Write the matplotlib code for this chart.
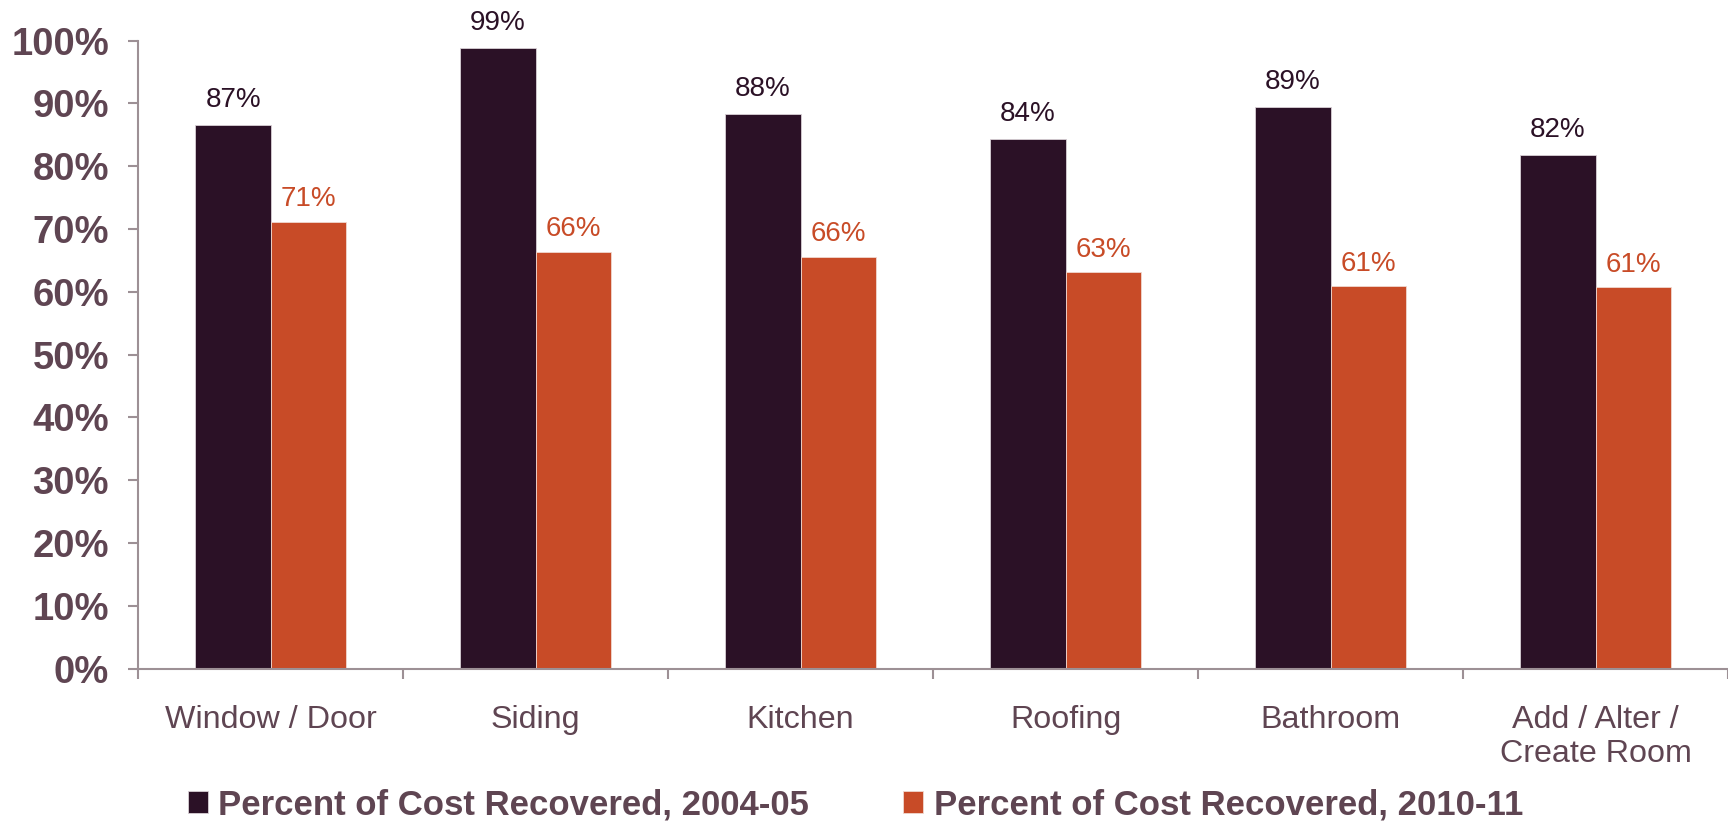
import matplotlib
matplotlib.use("Agg")
import matplotlib.pyplot as plt
import numpy as np
from matplotlib.ticker import FixedLocator, FuncFormatter

categories = ["Window / Door", "Siding", "Kitchen", "Roofing", "Bathroom", "Add / Alter /\nCreate Room"]
series_2004 = [86.6, 98.9, 88.3, 84.4, 89.4, 81.8]
series_2010 = [71.2, 66.4, 65.6, 63.1, 60.9, 60.7]
labels_2004 = ["87%", "99%", "88%", "84%", "89%", "82%"]
labels_2010 = ["71%", "66%", "66%", "63%", "61%", "61%"]
legend_names = ["Percent of Cost Recovered, 2004-05", "Percent of Cost Recovered, 2010-11"]
yticks = [0, 10, 20, 30, 40, 50, 60, 70, 80, 90, 100]

C_DARK = "#2b1126"
C_ORANGE = "#c84b27"
C_TEXT = "#5f4552"
C_AXIS = "#9d9095"

plt.rcParams["font.family"] = ["Liberation Sans", "DejaVu Sans"]

fig = plt.figure(figsize=(17.28, 8.22), dpi=100)
ax = fig.add_axes([0.08, 0.1865, 0.92, 0.764])

x = np.arange(len(categories))
w = 0.284
b1 = ax.bar(x - w / 2, series_2004, w, color=C_DARK, edgecolor="#d9d0d6", linewidth=0.6, label=legend_names[0])
b2 = ax.bar(x + w / 2, series_2010, w, color=C_ORANGE, edgecolor="#f0d8cf", linewidth=0.6, label=legend_names[1])

ax.bar_label(b1, labels=labels_2004, padding=8.5, fontsize=20, color=C_DARK)
ax.bar_label(b2, labels=labels_2010, padding=7, fontsize=20, color=C_ORANGE)

ax.set_xlim(-0.5, len(categories) - 0.5)
ax.set_ylim(0, 100)

ax.set_yticks(yticks)
ax.yaxis.set_major_formatter(FuncFormatter(lambda v, p: f"{int(v)}%"))
ax.tick_params(axis="y", direction="out", length=7, width=1.5, color=C_AXIS,
               labelsize=27.5, labelcolor=C_TEXT, pad=14)
for lab in ax.get_yticklabels():
    lab.set_fontweight("bold")

ax.set_xticks(x)
ax.set_xticklabels(categories, fontsize=23.2, color=C_TEXT)
ax.tick_params(axis="x", which="major", length=0, pad=26)
ax.xaxis.set_minor_locator(FixedLocator(np.arange(-0.5, len(categories), 1.0)))
ax.tick_params(axis="x", which="minor", direction="out", length=7, width=1.5, color=C_AXIS)

for s in ["top", "right"]:
    ax.spines[s].set_visible(False)
for s in ["left", "bottom"]:
    ax.spines[s].set_color(C_AXIS)
    ax.spines[s].set_linewidth(1.5)

leg = fig.legend(handles=[b1, b2], labels=legend_names, loc="center",
                 bbox_to_anchor=(0.495, 0.021), ncol=2, frameon=False,
                 prop={"size": 25, "weight": "bold"}, handlelength=0.58,
                 handleheight=0.58, handletextpad=0.3, columnspacing=2.7)
for t in leg.get_texts():
    t.set_color(C_TEXT)

fig.savefig("out.png", dpi=100)
